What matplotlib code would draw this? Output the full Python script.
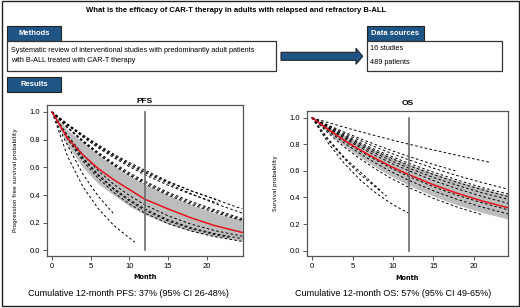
import numpy as np
import matplotlib.pyplot as plt
from matplotlib.patches import Rectangle, Polygon

plt.rcParams['font.family'] = ['Liberation Sans', 'DejaVu Sans']

blue = '#1f5585'
narrow = ['Liberation Sans Narrow', 'DejaVu Sans']

# common month grid used for the curves
grid = [0, 2, 4, 6, 8, 10, 12, 15, 18, 21, 24.6]

# ---- PFS ----
pfs_pooled = [1, 0.81, 0.69, 0.59, 0.51, 0.44, 0.37, 0.30, 0.235, 0.18, 0.13]
pfs_ci_hi = [1, 0.87, 0.78, 0.69, 0.61, 0.54, 0.48, 0.40, 0.33, 0.27, 0.22]
pfs_ci_lo = [1, 0.76, 0.60, 0.48, 0.40, 0.32, 0.26, 0.19, 0.14, 0.10, 0.07]

pfs_full = [
    [1, .913, .834, .762, .695, .635, .58, .50, .43, .37, .30],
    [1, .908, .824, .748, .68, .617, .56, .485, .41, .34, .27],
    [1, .891, .794, .707, .63, .561, .50, .42, .354, .295, .23],
    [1, .885, .783, .693, .613, .542, .48, .40, .332, .275, .215],
    [1, .888, .788, .70, .62, .55, .49, .41, .343, .285, .222],
    [1, .831, .691, .574, .477, .397, .33, .25, .19, .144, .103],
    [1, .818, .669, .548, .448, .367, .30, .222, .164, .122, .085],
    [1, .804, .646, .52, .418, .336, .27, .195, .14, .10, .065],
]
pfs_part_t = [
    [0, 2, 4, 6, 8, 10, 12, 15, 18, 21.7],
    [0, 2, 4, 6, 8, 10, 12, 15, 18, 21.5],
    [0, 2, 4, 6, 8, 10, 12, 15, 18, 21, 23.2],
    [0, 1, 2, 4, 6, 7.9],
    [0, 1, 2, 4, 6, 8, 10.7],
]
pfs_part_s = [
    [1, .91, .83, .754, .686, .625, .568, .494, .43, .36],
    [1, .905, .818, .74, .669, .605, .547, .471, .405, .34],
    [1, .814, .662, .539, .439, .357, .29, .213, .156, .115, .092],
    [1, .87, .76, .55, .39, .27],
    [1, .84, .68, .46, .30, .18, .06],
]

# ---- OS ----
os_pooled = [1, .911, .829, .755, .688, .626, .57, .495, .43, .374, .316]
os_ci_hi = [1, .931, .866, .806, .75, .698, .65, .584, .524, .471, .414]
os_ci_lo = [1, .888, .788, .70, .622, .552, .49, .41, .343, .287, .232]

os_full = [
    [1, .938, .88, .826, .775, .727, .682, .62, .563, .512, .456],
    [1, .933, .87, .81, .755, .704, .656, .59, .53, .475, .42],
    [1, .928, .862, .80, .742, .689, .64, .572, .512, .458, .40],
    [1, .923, .852, .787, .727, .671, .62, .55, .49, .435, .38],
    [1, .918, .843, .774, .71, .652, .60, .527, .464, .408, .35],
    [1, .907, .823, .746, .677, .614, .557, .48, .415, .36, .30],
    [1, .899, .808, .727, .653, .587, .528, .45, .384, .327, .27],
]
os_part_t = [
    [0, 2, 4, 6, 8, 10, 12, 15, 18, 22],
    [0, 2, 4, 6, 8, 10, 12, 15, 17.7],
    [0, 2, 4, 6, 8, 10, 12, 15, 18, 21],
    [0, 2, 4, 6, 8, 10, 11.9],
    [0, 2, 4, 6, 9.2],
    [0, 2, 4, 6, 8.5],
]
os_part_s = [
    [1, .963, .928, .894, .862, .83, .80, .757, .716, .664],
    [1, .944, .891, .841, .794, .749, .707, .648, .60],
    [1, .883, .779, .688, .608, .536, .474, .393, .326, .27],
    [1, .809, .654, .529, .428, .346, .283],
    [1, .83, .69, .57, .41],
    [1, .84, .70, .59, .45],
]

fig = plt.figure(figsize=(5.2, 3.08), dpi=100)

# background layer in pixel coordinates for the boxes and text
bg = fig.add_axes([0, 0, 1, 1])
bg.set_xlim(0, 520)
bg.set_ylim(308, 0)
bg.axis('off')

bg.add_patch(Rectangle((1.5, 0.5), 517, 305, fill=False, ec='#222222', lw=1))
bg.text(236, 11, 'What is the efficacy of CAR-T therapy in adults with relapsed and refractory B-ALL',
        ha='center', va='center', fontsize=5.5, fontweight='bold')

def tab(x, y, w, h, label):
    bg.add_patch(Rectangle((x, y), w, h, fc=blue, ec='#222222', lw=0.8))
    bg.text(x + w / 2, y + h / 2, label, ha='center', va='center', color='white',
            fontsize=5.5, fontweight='bold')

tab(7, 26, 54, 14.5, 'Methods')
bg.add_patch(Rectangle((7, 40.5), 269, 30.5, fc='white', ec='#333333', lw=0.9))
bg.text(11, 51, 'Systematic review of interventional studies with predominantly adult patients',
        va='center', fontsize=5.2)
bg.text(11, 61, 'with B-ALL treated with CAR-T therapy', va='center', fontsize=5.2)

tab(367, 26, 57, 14.5, 'Data sources')
bg.add_patch(Rectangle((367, 40.5), 135, 30.5, fc='white', ec='#333333', lw=0.9))
bg.text(370, 48.5, '16 studies', va='center', fontsize=5.2)
bg.text(370, 63, '489 patients', va='center', fontsize=5.2)

arrow = [(281, 52.3), (356, 52.3), (356, 48.3), (362.7, 56.3), (356, 64.3), (356, 60.3), (281, 60.3)]
bg.add_patch(Polygon(arrow, closed=True, fc=blue, ec='#222222', lw=0.8))

tab(7, 77, 54, 15, 'Results')

bg.text(128, 294, 'Cumulative 12-month PFS: 37% (95% CI 26-48%)', ha='center', va='center', fontsize=6.45)
bg.text(393, 294, 'Cumulative 12-month OS: 57% (95% CI 49-65%)', ha='center', va='center', fontsize=6.45)


def km_panel(rect, xlim, title, ylabel, pooled, lo, hi, full, part_t, part_s, title_pad, xlab_y):
    ax = fig.add_axes(rect)
    ax.fill_between(grid, lo, hi, color='#bdbdbd', lw=0, zorder=1)
    for s in full:
        ax.plot(grid, s, color='black', lw=0.7, dashes=(2.6, 2.4), zorder=2)
    for t, s in zip(part_t, part_s):
        ax.plot(t, s, color='black', lw=0.7, dashes=(2.6, 2.4), zorder=2)
    ax.plot(grid, pooled, color='#e3141f', lw=1.1, zorder=3)
    ax.plot([12, 12], [0, 1], color='#6b6b6b', lw=1.2, zorder=4)
    ax.set_xlim(*xlim)
    ax.set_ylim(-0.04, 1.05)
    ax.set_xticks([0, 5, 10, 15, 20])
    ax.set_yticks([0, 0.2, 0.4, 0.6, 0.8, 1.0])
    ax.set_yticklabels(['0.0', '0.2', '0.4', '0.6', '0.8', '1.0'])
    ax.tick_params(labelsize=5.5, length=3, width=0.7, color='#555555', pad=2)
    for sp in ax.spines.values():
        sp.set_color('#555555')
        sp.set_linewidth(0.9)
    ax.set_title(title, fontsize=6, fontweight='bold', pad=title_pad)
    ax.set_ylabel(ylabel, fontsize=4.6, family=narrow, fontstretch='condensed')
    ax.set_xlabel('Month', fontsize=5.2, family=narrow, fontstretch='condensed', fontweight='bold')
    ax.xaxis.set_label_coords(0.5, xlab_y)
    ax.xaxis.label.set_va('center')
    return ax


ax1 = km_panel([47 / 520, 52 / 308, 196 / 520, 151 / 308], (-0.65, 24.7), 'PFS',
               'Progression free survival probability', pfs_pooled, pfs_ci_lo, pfs_ci_hi,
               pfs_full, pfs_part_t, pfs_part_s, 0.5, -0.139)
ax1.yaxis.set_label_coords(-0.149, 0.5)

ax2 = km_panel([307 / 520, 52 / 308, 201 / 520, 145 / 308], (-0.62, 24.2), 'OS',
               'Survival probability', os_pooled, os_ci_lo, os_ci_hi,
               os_full, os_part_t, os_part_s, 4, -0.152)
ax2.yaxis.set_label_coords(-0.144, 0.5)

fig.savefig('out.png', dpi=100)
